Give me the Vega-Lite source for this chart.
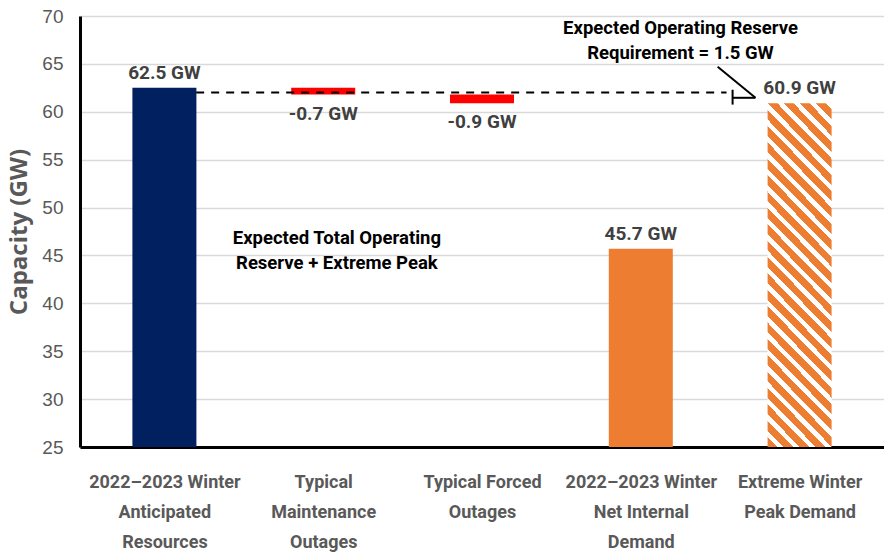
{
  "$schema": "https://vega.github.io/schema/vega-lite/v6.json",
  "width": 804,
  "height": 431,
  "autosize": "none",
  "padding": {"left": 80, "top": 16, "right": 0, "bottom": 107},
  "background": "white",
  "config": {"view": {"stroke": null}, "font": "Roboto"},
  "datasets": {
    "bars": [
      {"cat": "2022–2023 Winter Anticipated Resources", "pos": 0.5, "bottom": 25, "top": 62.5, "kind": "navy", "label": "62.5 GW"},
      {"cat": "Typical Maintenance Outages", "pos": 1.5, "bottom": 61.8, "top": 62.5, "kind": "red", "label": "-0.7 GW"},
      {"cat": "Typical Forced Outages", "pos": 2.5, "bottom": 60.9, "top": 61.8, "kind": "red", "label": "-0.9 GW"},
      {"cat": "2022–2023 Winter Net Internal Demand", "pos": 3.5, "bottom": 25, "top": 45.7, "kind": "orange", "label": "45.7 GW"},
      {"cat": "Extreme Winter Peak Demand", "pos": 4.5, "bottom": 25, "top": 60.9, "kind": "hatch", "label": "60.9 GW"}
    ],
    "dashed": [{"x": 0.7, "x2": 4.04, "y": 62.0}],
    "segments": [
      {"part": "leader", "x": 3.984, "y": 64.7, "x2": 4.222, "y2": 61.46},
      {"part": "tip", "x": 4.078, "y": 61.46, "x2": 4.222, "y2": 61.46},
      {"part": "brace", "x": 4.078, "y": 62.3, "x2": 4.078, "y2": 60.75}
    ],
    "notes": [
      {"text": "Expected Total Operating\nReserve + Extreme Peak", "x": 1.586, "y": 46.8},
      {"text": "Expected Operating Reserve\nRequirement = 1.5 GW", "x": 3.75, "y": 68.7}
    ]
  },
  "layer": [
    {
      "data": {"name": "bars"},
      "transform": [{"filter": "datum.kind !== 'hatch'"}],
      "mark": {"type": "bar", "orient": "vertical", "size": 64},
      "encoding": {
        "x": {
          "field": "pos", "type": "quantitative",
          "scale": {"domain": [0, 5], "nice": false, "zero": false},
          "axis": {
            "values": [0.5, 1.5, 2.5, 3.5, 4.5],
            "labelExpr": "datum.value == 0.5 ? ['2022–2023 Winter','Anticipated','Resources'] : datum.value == 1.5 ? ['Typical','Maintenance','Outages'] : datum.value == 2.5 ? ['Typical Forced','Outages'] : datum.value == 3.5 ? ['2022–2023 Winter','Net Internal','Demand'] : ['Extreme Winter','Peak Demand']",
            "title": null, "ticks": false, "grid": false,
            "domainColor": "black", "domainWidth": 3,
            "labelFont": "Roboto", "labelFontSize": 18, "labelFontWeight": "bold",
            "labelColor": "#595959", "labelLineHeight": 30, "labelBaseline": "top",
            "labelPadding": 26, "labelFlush": false, "labelOverlap": false, "labelBound": false
          }
        },
        "y": {
          "field": "top", "type": "quantitative",
          "scale": {"domain": [25, 70], "nice": false, "zero": false},
          "axis": {
            "values": [25, 30, 35, 40, 45, 50, 55, 60, 65, 70],
            "title": "Capacity (GW)", "titleFont": "Open Sans", "titleFontSize": 24,
            "titleFontWeight": "bold", "titleColor": "#595959", "titlePadding": 10,
            "labelFont": "Liberation Sans", "labelFontSize": 19, "labelColor": "#595959",
            "labelPadding": 17, "ticks": false,
            "domainColor": "black", "domainWidth": 3,
            "gridColor": "#d9d9d9", "gridWidth": 1.5
          }
        },
        "y2": {"field": "bottom"},
        "color": {
          "field": "kind", "type": "nominal",
          "scale": {"domain": ["navy", "red", "orange"], "range": ["#002060", "#ff0000", "#ed7d31"]},
          "legend": null
        }
      }
    },
    {
      "data": {"name": "bars"},
      "transform": [{"filter": "datum.kind === 'hatch'"}],
      "mark": {
        "type": "bar", "orient": "vertical", "size": 64,
        "fill": {
          "gradient": "linear", "x1": 0, "y1": 1, "x2": 0.218, "y2": -0.149,
          "stops": [
            {"offset": 0, "color": "#ed7d31"}, {"offset": 0.024, "color": "#ed7d31"}, {"offset": 0.024, "color": "#ffffff"}, {"offset": 0.04, "color": "#ffffff"},
            {"offset": 0.04, "color": "#ed7d31"}, {"offset": 0.064, "color": "#ed7d31"}, {"offset": 0.064, "color": "#ffffff"}, {"offset": 0.08, "color": "#ffffff"},
            {"offset": 0.08, "color": "#ed7d31"}, {"offset": 0.104, "color": "#ed7d31"}, {"offset": 0.104, "color": "#ffffff"}, {"offset": 0.12, "color": "#ffffff"},
            {"offset": 0.12, "color": "#ed7d31"}, {"offset": 0.144, "color": "#ed7d31"}, {"offset": 0.144, "color": "#ffffff"}, {"offset": 0.16, "color": "#ffffff"},
            {"offset": 0.16, "color": "#ed7d31"}, {"offset": 0.184, "color": "#ed7d31"}, {"offset": 0.184, "color": "#ffffff"}, {"offset": 0.2, "color": "#ffffff"},
            {"offset": 0.2, "color": "#ed7d31"}, {"offset": 0.224, "color": "#ed7d31"}, {"offset": 0.224, "color": "#ffffff"}, {"offset": 0.24, "color": "#ffffff"},
            {"offset": 0.24, "color": "#ed7d31"}, {"offset": 0.264, "color": "#ed7d31"}, {"offset": 0.264, "color": "#ffffff"}, {"offset": 0.28, "color": "#ffffff"},
            {"offset": 0.28, "color": "#ed7d31"}, {"offset": 0.304, "color": "#ed7d31"}, {"offset": 0.304, "color": "#ffffff"}, {"offset": 0.32, "color": "#ffffff"},
            {"offset": 0.32, "color": "#ed7d31"}, {"offset": 0.344, "color": "#ed7d31"}, {"offset": 0.344, "color": "#ffffff"}, {"offset": 0.36, "color": "#ffffff"},
            {"offset": 0.36, "color": "#ed7d31"}, {"offset": 0.384, "color": "#ed7d31"}, {"offset": 0.384, "color": "#ffffff"}, {"offset": 0.4, "color": "#ffffff"},
            {"offset": 0.4, "color": "#ed7d31"}, {"offset": 0.424, "color": "#ed7d31"}, {"offset": 0.424, "color": "#ffffff"}, {"offset": 0.44, "color": "#ffffff"},
            {"offset": 0.44, "color": "#ed7d31"}, {"offset": 0.464, "color": "#ed7d31"}, {"offset": 0.464, "color": "#ffffff"}, {"offset": 0.48, "color": "#ffffff"},
            {"offset": 0.48, "color": "#ed7d31"}, {"offset": 0.504, "color": "#ed7d31"}, {"offset": 0.504, "color": "#ffffff"}, {"offset": 0.52, "color": "#ffffff"},
            {"offset": 0.52, "color": "#ed7d31"}, {"offset": 0.544, "color": "#ed7d31"}, {"offset": 0.544, "color": "#ffffff"}, {"offset": 0.56, "color": "#ffffff"},
            {"offset": 0.56, "color": "#ed7d31"}, {"offset": 0.584, "color": "#ed7d31"}, {"offset": 0.584, "color": "#ffffff"}, {"offset": 0.6, "color": "#ffffff"},
            {"offset": 0.6, "color": "#ed7d31"}, {"offset": 0.624, "color": "#ed7d31"}, {"offset": 0.624, "color": "#ffffff"}, {"offset": 0.64, "color": "#ffffff"},
            {"offset": 0.64, "color": "#ed7d31"}, {"offset": 0.664, "color": "#ed7d31"}, {"offset": 0.664, "color": "#ffffff"}, {"offset": 0.68, "color": "#ffffff"},
            {"offset": 0.68, "color": "#ed7d31"}, {"offset": 0.704, "color": "#ed7d31"}, {"offset": 0.704, "color": "#ffffff"}, {"offset": 0.72, "color": "#ffffff"},
            {"offset": 0.72, "color": "#ed7d31"}, {"offset": 0.744, "color": "#ed7d31"}, {"offset": 0.744, "color": "#ffffff"}, {"offset": 0.76, "color": "#ffffff"},
            {"offset": 0.76, "color": "#ed7d31"}, {"offset": 0.784, "color": "#ed7d31"}, {"offset": 0.784, "color": "#ffffff"}, {"offset": 0.8, "color": "#ffffff"},
            {"offset": 0.8, "color": "#ed7d31"}, {"offset": 0.824, "color": "#ed7d31"}, {"offset": 0.824, "color": "#ffffff"}, {"offset": 0.84, "color": "#ffffff"},
            {"offset": 0.84, "color": "#ed7d31"}, {"offset": 0.864, "color": "#ed7d31"}, {"offset": 0.864, "color": "#ffffff"}, {"offset": 0.88, "color": "#ffffff"},
            {"offset": 0.88, "color": "#ed7d31"}, {"offset": 0.904, "color": "#ed7d31"}, {"offset": 0.904, "color": "#ffffff"}, {"offset": 0.92, "color": "#ffffff"},
            {"offset": 0.92, "color": "#ed7d31"}, {"offset": 0.944, "color": "#ed7d31"}, {"offset": 0.944, "color": "#ffffff"}, {"offset": 0.96, "color": "#ffffff"},
            {"offset": 0.96, "color": "#ed7d31"}, {"offset": 0.984, "color": "#ed7d31"}, {"offset": 0.984, "color": "#ffffff"}, {"offset": 1, "color": "#ffffff"}
          ]
        }
      },
      "encoding": {
        "x": {"field": "pos", "type": "quantitative"},
        "y": {"field": "top", "type": "quantitative"},
        "y2": {"field": "bottom"}
      }
    },
    {
      "data": {"name": "dashed"},
      "mark": {"type": "rule", "color": "black", "strokeWidth": 2, "strokeDash": [8, 7]},
      "encoding": {
        "x": {"field": "x", "type": "quantitative"},
        "x2": {"field": "x2"},
        "y": {"field": "y", "type": "quantitative"}
      }
    },
    {
      "data": {"name": "segments"},
      "mark": {"type": "rule", "color": "black", "strokeWidth": 2},
      "encoding": {
        "x": {"field": "x", "type": "quantitative"},
        "x2": {"field": "x2"},
        "y": {"field": "y", "type": "quantitative"},
        "y2": {"field": "y2"}
      }
    },
    {
      "data": {"name": "bars"},
      "transform": [{"filter": "datum.kind !== 'red'"}],
      "mark": {"type": "text", "font": "Roboto", "fontSize": 19, "fontWeight": "bold", "color": "#404040", "baseline": "middle", "dy": -15},
      "encoding": {
        "x": {"field": "pos", "type": "quantitative"},
        "y": {"field": "top", "type": "quantitative"},
        "text": {"field": "label"}
      }
    },
    {
      "data": {"name": "bars"},
      "transform": [{"filter": "datum.kind === 'red'"}],
      "mark": {"type": "text", "font": "Roboto", "fontSize": 19, "fontWeight": "bold", "color": "#404040", "baseline": "middle", "dy": 19},
      "encoding": {
        "x": {"field": "pos", "type": "quantitative"},
        "y": {"field": "bottom", "type": "quantitative"},
        "text": {"field": "label"}
      }
    },
    {
      "data": {"name": "notes"},
      "mark": {"type": "text", "font": "Roboto", "fontSize": 18.5, "fontWeight": "bold", "color": "black", "baseline": "middle", "align": "center", "lineBreak": "\n", "lineHeight": 25},
      "encoding": {
        "x": {"field": "x", "type": "quantitative"},
        "y": {"field": "y", "type": "quantitative"},
        "text": {"field": "text"}
      }
    }
  ]
}
